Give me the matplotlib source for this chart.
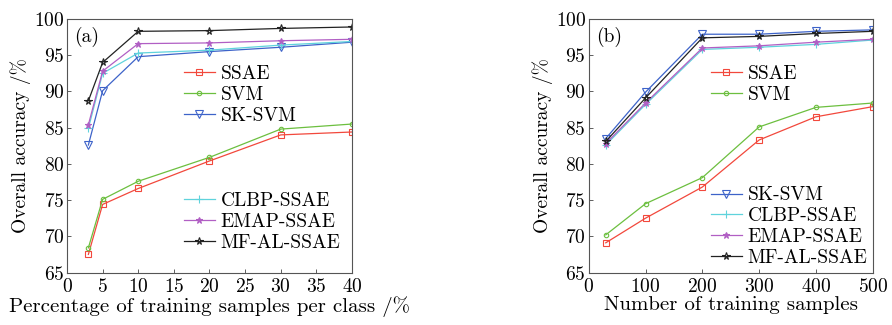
import matplotlib
matplotlib.use("Agg")
import matplotlib.pyplot as plt

plt.rcParams['font.family'] = ['cmr10', 'DejaVu Serif']
plt.rcParams['axes.formatter.use_mathtext'] = True
plt.rcParams['mathtext.fontset'] = 'cm'

# Panel (a)
xa = [3, 5, 10, 20, 30, 40]
a_ssae = [67.5, 74.4, 76.6, 80.4, 84.0, 84.4]
a_svm = [68.4, 75.1, 77.6, 80.9, 84.8, 85.5]
a_sksvm = [82.6, 90.1, 94.8, 95.5, 96.1, 96.8]
a_clbp = [84.9, 92.5, 95.3, 95.7, 96.4, 96.9]
a_emap = [85.4, 92.8, 96.6, 96.7, 97.0, 97.2]
a_mfal = [88.7, 94.0, 98.3, 98.4, 98.7, 98.9]

# Panel (b)
xb = [30, 100, 200, 300, 400, 500]
b_ssae = [69.1, 72.5, 76.8, 83.3, 86.5, 87.9]
b_svm = [70.2, 74.5, 78.1, 85.1, 87.8, 88.4]
b_sksvm = [83.5, 89.9, 97.9, 97.9, 98.3, 98.5]
b_clbp = [82.6, 88.2, 95.8, 96.1, 96.5, 97.1]
b_emap = [82.8, 88.4, 96.0, 96.3, 96.8, 97.2]
b_mfal = [83.1, 89.1, 97.4, 97.6, 98.0, 98.3]

names = ['SSAE', 'SVM', 'SK-SVM', 'CLBP-SSAE', 'EMAP-SSAE', 'MF-AL-SSAE']
colors = ['#f2483c', '#6cbf3f', '#3d63c9', '#5fd3dc', '#b15fc4', '#222222']
markers = ['s', 'o', 'v', '+', '*', '*']
msizes = [4.5, 3.2, 5.5, 5.5, 4.5, 5.5]

fig = plt.figure(figsize=(8.92, 3.25), dpi=100)
axA = fig.add_axes([0.0751, 0.1615, 0.3195, 0.78])
axB = fig.add_axes([0.660, 0.1615, 0.3184, 0.78])

FS = 14

def draw(ax, x, series, xlim, xticks, xlabel, tag):
    lines = []
    for i, (y, n) in enumerate(zip(series, names)):
        mfc = colors[i] if n == 'EMAP-SSAE' else 'none'
        ln, = ax.plot(x, y, color=colors[i], marker=markers[i], ms=msizes[i],
                      mfc=mfc, mec=colors[i], lw=0.9, mew=0.8, label=n)
        lines.append(ln)
    ax.set_xlim(*xlim)
    ax.set_ylim(65, 100)
    ax.set_xticks(xticks)
    ax.set_yticks(range(65, 101, 5))
    ax.tick_params(direction='in', labelsize=FS, length=3, width=0.6,
                   colors='#444444', labelcolor='black')
    ax.tick_params(axis='x', pad=4)
    ax.tick_params(axis='y', pad=2)
    for s in ax.spines.values():
        s.set_color('#555555')
        s.set_linewidth(0.8)
    ax.set_xlabel(xlabel, fontsize=15, labelpad=0)
    ax.set_ylabel('Overall accuracy /%', fontsize=FS, labelpad=2)
    ax.text(0.025, 0.93, tag, transform=ax.transAxes, fontsize=FS,
            va='center', ha='left')
    return lines

la = draw(axA, xa, [a_ssae, a_svm, a_sksvm, a_clbp, a_emap, a_mfal],
          (0, 40), range(0, 41, 5), 'Percentage of training samples per class /%', '(a)')
lb = draw(axB, xb, [b_ssae, b_svm, b_sksvm, b_clbp, b_emap, b_mfal],
          (0, 500), range(0, 501, 100), 'Number of training samples', '(b)')

kw = dict(frameon=False, fontsize=FS, borderpad=0, borderaxespad=0,
          handlelength=1.6, handletextpad=0.3, labelspacing=0.15, loc='center left')
l1 = axA.legend(la[:3], names[:3], bbox_to_anchor=(0.41, 0.70), **kw)
axA.add_artist(l1)
axA.legend(la[3:], names[3:], bbox_to_anchor=(0.41, 0.20), **kw)
l2 = axB.legend(lb[:2], names[:2], bbox_to_anchor=(0.43, 0.742), **kw)
axB.add_artist(l2)
axB.legend(lb[2:], names[2:], bbox_to_anchor=(0.43, 0.181), **kw)

fig.savefig('out.png', dpi=100)
